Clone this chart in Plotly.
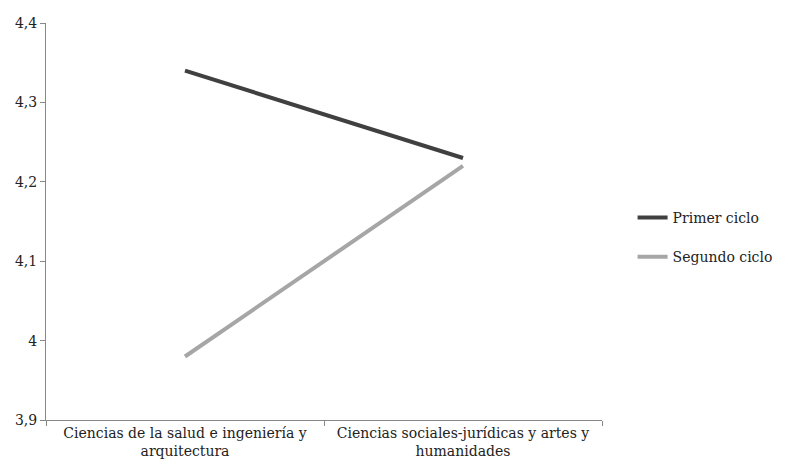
import plotly.graph_objects as go

# categories and mean scores per cycle
categorias = ["Ciencias de la salud e ingeniería y<br>arquitectura",
              "Ciencias sociales-jurídicas y artes y<br>humanidades"]
primer_ciclo = [4.34, 4.23]
segundo_ciclo = [3.98, 4.22]
y_ticks = [3.9, 4.0, 4.1, 4.2, 4.3, 4.4]
y_labels = ["3,9", "4", "4,1", "4,2", "4,3", "4,4"]

fig = go.Figure()
fig.add_trace(go.Scatter(x=categorias, y=primer_ciclo, mode="lines", name="Primer ciclo",
                         legendgroup="a", line=dict(color="#404040", width=4)))
fig.add_trace(go.Scatter(x=categorias, y=segundo_ciclo, mode="lines", name="Segundo ciclo",
                         legendgroup="b", line=dict(color="#a6a6a6", width=4)))

fig.update_layout(
    width=788, height=471,
    margin=dict(l=34, r=194, t=7, b=59),
    paper_bgcolor="white", plot_bgcolor="white",
    font=dict(family="DejaVu Serif", size=14, color="#222222"),
    legend=dict(x=1.055, y=0.46, xanchor="left", yanchor="middle",
                font=dict(size=14), traceorder="grouped", tracegroupgap=18),
    showlegend=True,
)
fig.update_xaxes(type="category", showline=True, linecolor="#888888", linewidth=1,
                 ticks="outside", tickson="boundaries", ticklen=5, tickcolor="#888888",
                 showgrid=False, range=[-0.5, 1.5])
fig.update_yaxes(range=[3.9, 4.4], tickvals=y_ticks, ticktext=y_labels,
                 showline=True, linecolor="#888888", linewidth=1,
                 ticks="outside", ticklen=5, tickcolor="#888888",
                 ticklabeloverflow="allow",
                 showgrid=False, zeroline=False)

fig.write_html("out.html")
